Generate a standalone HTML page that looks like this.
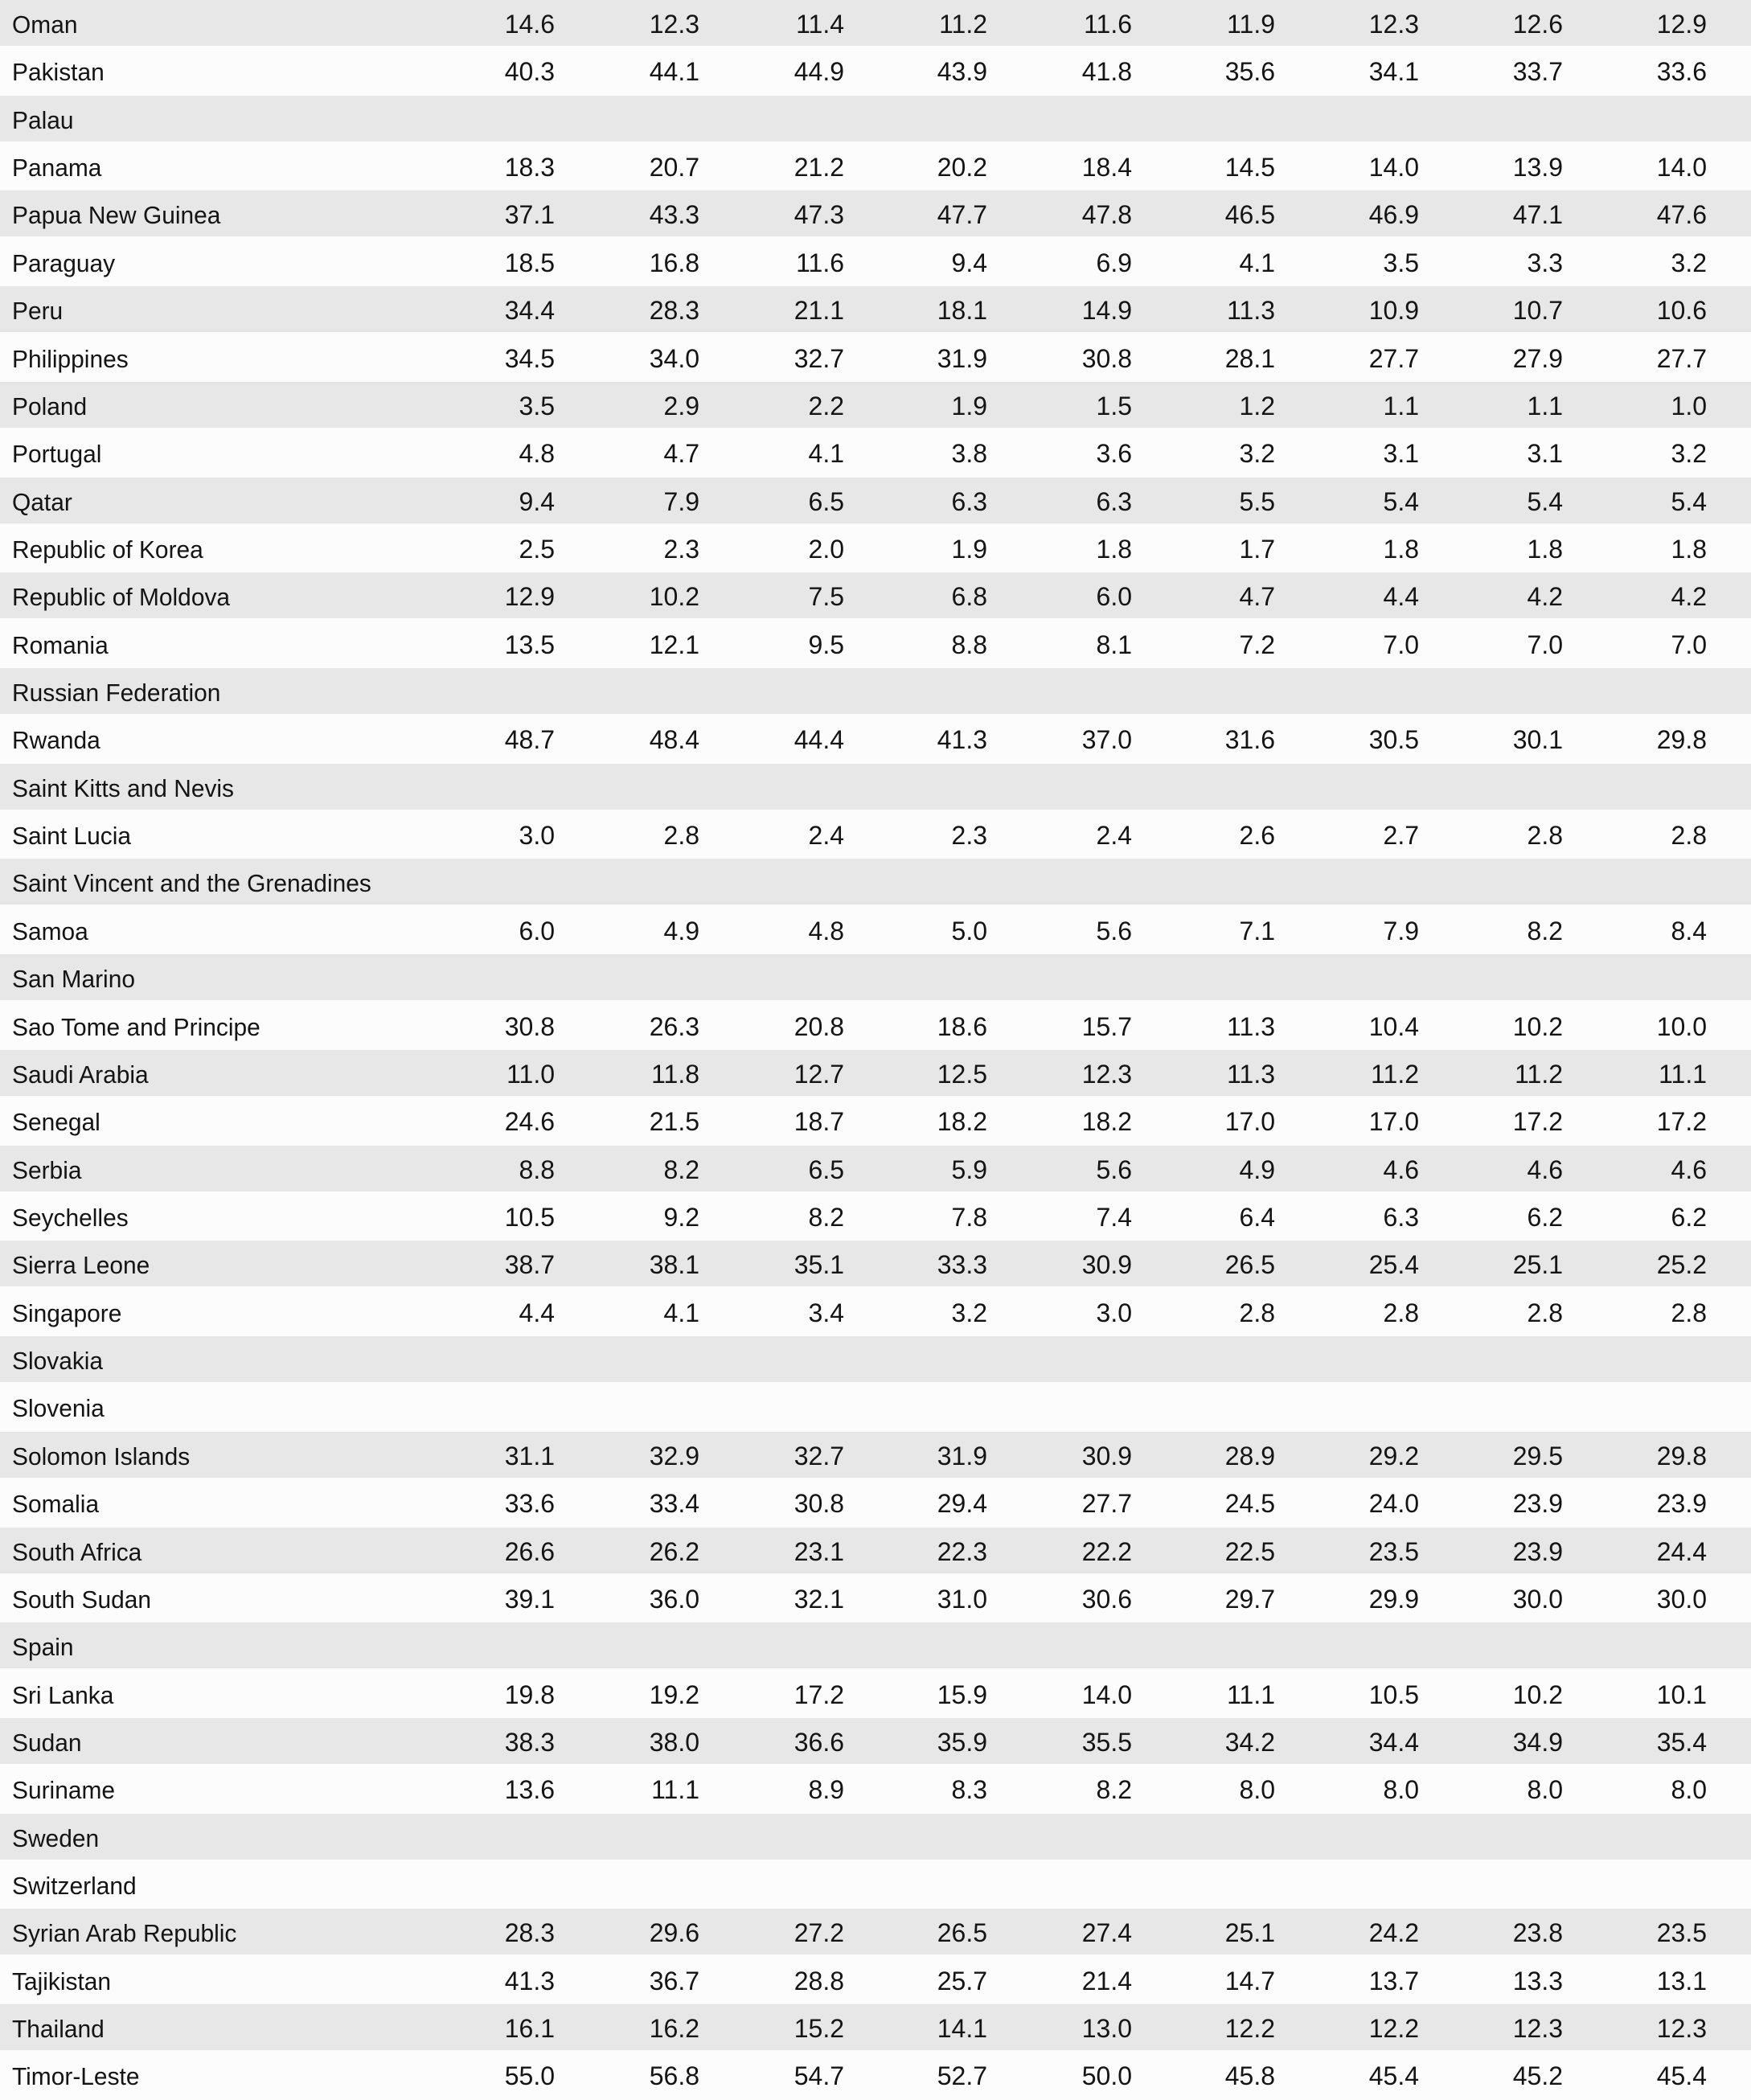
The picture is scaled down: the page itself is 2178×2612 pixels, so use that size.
<!DOCTYPE html>
<html><head><meta charset="utf-8"><style>
body{margin:0;width:2178px;height:2612px;background:#fcfcfc;font-family:"Liberation Sans",sans-serif;color:#141414;overflow:hidden;position:relative}
.r{position:absolute;left:0;width:2178px;height:57px}
.g{background:#e7e7e7}
.n{position:absolute;left:15px;top:2px;line-height:57px;font-size:31px;transform:scaleX(0.965);transform-origin:left center;white-space:nowrap}
.v{position:absolute;top:2px;line-height:57px;font-size:32px;text-align:right;width:150px}
</style></head><body>
<div id="t"></div>
<script>
const d=[
["Oman","14.6 12.3 11.4 11.2 11.6 11.9 12.3 12.6 12.9"],
["Pakistan","40.3 44.1 44.9 43.9 41.8 35.6 34.1 33.7 33.6"],
["Palau",""],
["Panama","18.3 20.7 21.2 20.2 18.4 14.5 14.0 13.9 14.0"],
["Papua New Guinea","37.1 43.3 47.3 47.7 47.8 46.5 46.9 47.1 47.6"],
["Paraguay","18.5 16.8 11.6 9.4 6.9 4.1 3.5 3.3 3.2"],
["Peru","34.4 28.3 21.1 18.1 14.9 11.3 10.9 10.7 10.6"],
["Philippines","34.5 34.0 32.7 31.9 30.8 28.1 27.7 27.9 27.7"],
["Poland","3.5 2.9 2.2 1.9 1.5 1.2 1.1 1.1 1.0"],
["Portugal","4.8 4.7 4.1 3.8 3.6 3.2 3.1 3.1 3.2"],
["Qatar","9.4 7.9 6.5 6.3 6.3 5.5 5.4 5.4 5.4"],
["Republic of Korea","2.5 2.3 2.0 1.9 1.8 1.7 1.8 1.8 1.8"],
["Republic of Moldova","12.9 10.2 7.5 6.8 6.0 4.7 4.4 4.2 4.2"],
["Romania","13.5 12.1 9.5 8.8 8.1 7.2 7.0 7.0 7.0"],
["Russian Federation",""],
["Rwanda","48.7 48.4 44.4 41.3 37.0 31.6 30.5 30.1 29.8"],
["Saint Kitts and Nevis",""],
["Saint Lucia","3.0 2.8 2.4 2.3 2.4 2.6 2.7 2.8 2.8"],
["Saint Vincent and the Grenadines",""],
["Samoa","6.0 4.9 4.8 5.0 5.6 7.1 7.9 8.2 8.4"],
["San Marino",""],
["Sao Tome and Principe","30.8 26.3 20.8 18.6 15.7 11.3 10.4 10.2 10.0"],
["Saudi Arabia","11.0 11.8 12.7 12.5 12.3 11.3 11.2 11.2 11.1"],
["Senegal","24.6 21.5 18.7 18.2 18.2 17.0 17.0 17.2 17.2"],
["Serbia","8.8 8.2 6.5 5.9 5.6 4.9 4.6 4.6 4.6"],
["Seychelles","10.5 9.2 8.2 7.8 7.4 6.4 6.3 6.2 6.2"],
["Sierra Leone","38.7 38.1 35.1 33.3 30.9 26.5 25.4 25.1 25.2"],
["Singapore","4.4 4.1 3.4 3.2 3.0 2.8 2.8 2.8 2.8"],
["Slovakia",""],
["Slovenia",""],
["Solomon Islands","31.1 32.9 32.7 31.9 30.9 28.9 29.2 29.5 29.8"],
["Somalia","33.6 33.4 30.8 29.4 27.7 24.5 24.0 23.9 23.9"],
["South Africa","26.6 26.2 23.1 22.3 22.2 22.5 23.5 23.9 24.4"],
["South Sudan","39.1 36.0 32.1 31.0 30.6 29.7 29.9 30.0 30.0"],
["Spain",""],
["Sri Lanka","19.8 19.2 17.2 15.9 14.0 11.1 10.5 10.2 10.1"],
["Sudan","38.3 38.0 36.6 35.9 35.5 34.2 34.4 34.9 35.4"],
["Suriname","13.6 11.1 8.9 8.3 8.2 8.0 8.0 8.0 8.0"],
["Sweden",""],
["Switzerland",""],
["Syrian Arab Republic","28.3 29.6 27.2 26.5 27.4 25.1 24.2 23.8 23.5"],
["Tajikistan","41.3 36.7 28.8 25.7 21.4 14.7 13.7 13.3 13.1"],
["Thailand","16.1 16.2 15.2 14.1 13.0 12.2 12.2 12.3 12.3"],
["Timor-Leste","55.0 56.8 54.7 52.7 50.0 45.8 45.4 45.2 45.4"]];
const R=[690,870,1050,1228,1408,1586,1765,1944,2123];
let h="";
d.forEach((r,i)=>{
 const top=(i*59.36).toFixed(2);
 h+=`<div class="r${i%2==0?' g':''}" style="top:${top}px"><span class="n">${r[0]}</span>`;
 if(r[1]) r[1].split(" ").forEach((v,j)=>{h+=`<span class="v" style="left:${R[j]-150}px">${v}</span>`});
 h+="</div>";
});
document.getElementById("t").innerHTML=h;
</script>
</body></html>
